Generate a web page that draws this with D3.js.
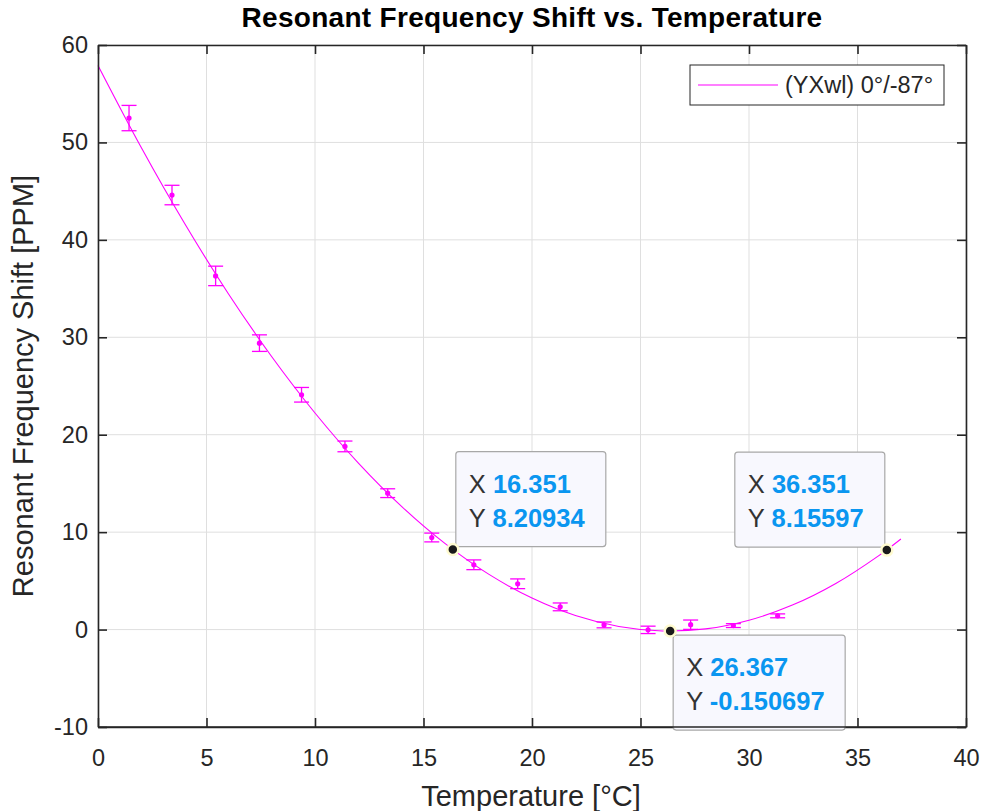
<!DOCTYPE html>
<html>
<head>
<meta charset="utf-8">
<script src="https://cdn.jsdelivr.net/npm/d3@7"></script>
<style>
  body { margin: 0; background: #fff; }
  text { font-family: Arial, "Liberation Sans", sans-serif; }
</style>
</head>
<body>
<svg id="chart"></svg>
<script>
// measured points (temperature, shift, error half-width)
var tempX = [1.43, 3.41, 5.42, 7.44, 9.38, 11.38, 13.35, 15.38, 17.32, 19.34, 21.3, 23.32, 25.35, 27.31, 29.28, 31.32];
var shiftY = [52.5, 44.6, 36.3, 29.4, 24.1, 18.8, 14.0, 9.45, 6.65, 4.7, 2.33, 0.48, -0.03, 0.5, 0.41, 1.41];
var errY = [1.3, 1.0, 1.0, 0.85, 0.75, 0.55, 0.45, 0.45, 0.5, 0.5, 0.4, 0.3, 0.38, 0.48, 0.2, 0.2];

// fitted curve
var fitX = [0, 2, 4, 6, 8, 10, 12, 14, 16, 18, 20, 22, 24, 26, 28, 30, 32, 34, 36, 37];
var fitY = [57.9, 49.45, 41.65, 34.5, 28.03, 22.23, 17.09, 12.62, 8.82, 5.69, 3.23, 1.44, 0.32, -0.14, 0.07, 0.96, 2.51, 4.73, 7.62, 9.3];

// data tips
var tipX = [16.351, 36.351, 26.367];
var tipY = [8.20934, 8.15597, -0.150697];
var tipLabelX = ["16.351", "36.351", "26.367"];
var tipLabelY = ["8.20934", "8.15597", "-0.150697"];

var xTicks = [0, 5, 10, 15, 20, 25, 30, 35, 40];
var yTicks = [-10, 0, 10, 20, 30, 40, 50, 60];
var legendLabel = "(YXwl) 0°/-87°";

var W = 982, H = 811;
var margin = {top: 45, right: 16, bottom: 84, left: 98};
var plotW = W - margin.left - margin.right,
    plotH = H - margin.top - margin.bottom;

var svg = d3.select("#chart").attr("width", W).attr("height", H);

var x = d3.scaleLinear().domain([0, 40]).range([0, plotW]);
var y = d3.scaleLinear().domain([-10, 60]).range([plotH, 0]);

var g = svg.append("g").attr("transform", "translate(" + margin.left + "," + margin.top + ")");

// grid
g.append("g").selectAll("line").data(xTicks).enter().append("line")
  .attr("x1", function(d) { return x(d); }).attr("x2", function(d) { return x(d); })
  .attr("y1", 0).attr("y2", plotH)
  .attr("stroke", "#dfdfdf").attr("stroke-width", 1);
g.append("g").selectAll("line").data(yTicks).enter().append("line")
  .attr("y1", function(d) { return y(d); }).attr("y2", function(d) { return y(d); })
  .attr("x1", 0).attr("x2", plotW)
  .attr("stroke", "#dfdfdf").attr("stroke-width", 1);

// fit line
var line = d3.line()
  .x(function(d) { return x(d[0]); })
  .y(function(d) { return y(d[1]); })
  .curve(d3.curveCatmullRom);
g.append("path")
  .datum(d3.zip(fitX, fitY))
  .attr("fill", "none").attr("stroke", "#ff00ff").attr("stroke-width", 1.1)
  .attr("d", line);

// error bars
var pts = d3.zip(tempX, shiftY, errY);
var cap = 7.5;
var eb = g.append("g").attr("stroke", "#ff00ff").attr("stroke-width", 1.3);
eb.selectAll(".ev").data(pts).enter().append("line")
  .attr("x1", function(d) { return x(d[0]); }).attr("x2", function(d) { return x(d[0]); })
  .attr("y1", function(d) { return y(d[1] + d[2]); }).attr("y2", function(d) { return y(d[1] - d[2]); });
eb.selectAll(".et").data(pts).enter().append("line")
  .attr("x1", function(d) { return x(d[0]) - cap; }).attr("x2", function(d) { return x(d[0]) + cap; })
  .attr("y1", function(d) { return y(d[1] + d[2]); }).attr("y2", function(d) { return y(d[1] + d[2]); });
eb.selectAll(".eb").data(pts).enter().append("line")
  .attr("x1", function(d) { return x(d[0]) - cap; }).attr("x2", function(d) { return x(d[0]) + cap; })
  .attr("y1", function(d) { return y(d[1] - d[2]); }).attr("y2", function(d) { return y(d[1] - d[2]); });
g.append("g").selectAll("circle").data(pts).enter().append("circle")
  .attr("cx", function(d) { return x(d[0]); }).attr("cy", function(d) { return y(d[1]); })
  .attr("r", 2.6).attr("fill", "#ff00ff");

// axes box + ticks
var axColor = "#262626";
var fmt = function(d) { return String(d); };
var axB = g.append("g").attr("transform", "translate(0," + plotH + ")")
  .call(d3.axisBottom(x).tickValues(xTicks).tickSizeInner(-9).tickSizeOuter(0).tickPadding(22).tickFormat(fmt));
var axT = g.append("g")
  .call(d3.axisTop(x).tickValues(xTicks).tickSizeInner(-9).tickSizeOuter(0).tickFormat(""));
var axL = g.append("g")
  .call(d3.axisLeft(y).tickValues(yTicks).tickSizeInner(-9).tickSizeOuter(0).tickPadding(10).tickFormat(fmt));
var axR = g.append("g").attr("transform", "translate(" + plotW + ",0)")
  .call(d3.axisRight(y).tickValues(yTicks).tickSizeInner(-9).tickSizeOuter(0).tickFormat(""));
[axB, axT, axL, axR].forEach(function(a) {
  a.select(".domain").attr("stroke", axColor).attr("stroke-width", 1.6);
  a.selectAll(".tick line").attr("stroke", axColor).attr("stroke-width", 1.6);
  a.selectAll(".tick text").attr("fill", axColor).style("font-size", "23.5px")
    .style("font-family", "Arial, 'Liberation Sans', sans-serif");
});

// data tips
var tipBoxes = [
  {dx: 3, dy: -98, w: 150, h: 95},
  {dx: -152, dy: -98, w: 150, h: 95},
  {dx: 3, dy: 4, w: 172, h: 95}
];
var tips = g.append("g");
tipX.forEach(function(tx, i) {
  var px = x(tx), py = y(tipY[i]), b = tipBoxes[i];
  var bx = px + b.dx, by = py + b.dy;
  tips.append("rect").attr("x", bx).attr("y", by).attr("width", b.w).attr("height", b.h)
    .attr("rx", 3).attr("fill", "#f8f8fe").attr("stroke", "#a8a8a8").attr("stroke-width", 1.2);
  var t1 = tips.append("text").attr("x", bx + 13).attr("y", by + 41).style("font-size", "25.5px");
  t1.append("tspan").attr("fill", "#333").text("X ");
  t1.append("tspan").attr("fill", "#0a96f0").attr("font-weight", "bold").text(tipLabelX[i]);
  var t2 = tips.append("text").attr("x", bx + 13).attr("y", by + 75).style("font-size", "25.5px");
  t2.append("tspan").attr("fill", "#333").text("Y ");
  t2.append("tspan").attr("fill", "#0a96f0").attr("font-weight", "bold").text(tipLabelY[i]);
  tips.append("circle").attr("cx", px).attr("cy", py).attr("r", 5.5)
    .attr("fill", "#1a1a1a").attr("stroke", "#fffbd0").attr("stroke-width", 2.5);
});
// redraw bottom axis line over the last tip box
g.append("line").attr("x1", 0).attr("x2", plotW).attr("y1", plotH).attr("y2", plotH)
  .attr("stroke", axColor).attr("stroke-width", 1.6);

// legend
var lg = g.append("g").attr("transform", "translate(" + (plotW - 276) + ",20)");
lg.append("rect").attr("width", 254).attr("height", 40)
  .attr("fill", "#fff").attr("stroke", axColor).attr("stroke-width", 1);
lg.append("line").attr("x1", 8).attr("x2", 88).attr("y1", 20).attr("y2", 20)
  .attr("stroke", "#ff00ff").attr("stroke-width", 1.1);
lg.append("text").attr("x", 95).attr("y", 28).attr("fill", axColor)
  .style("font-size", "23.5px").text(legendLabel);

// titles
svg.append("text").attr("x", margin.left + plotW / 2).attr("y", 27)
  .attr("text-anchor", "middle").attr("font-weight", "bold").attr("fill", "#000")
  .style("font-size", "28px").style("letter-spacing", "0.3px")
  .text("Resonant Frequency Shift vs. Temperature");
svg.append("text").attr("x", 531).attr("y", 806)
  .attr("text-anchor", "middle").attr("fill", axColor)
  .style("font-size", "29px").text("Temperature [°C]");
svg.append("text").attr("transform", "translate(33," + (margin.top + plotH / 2) + ") rotate(-90)")
  .attr("text-anchor", "middle").attr("fill", axColor)
  .style("font-size", "29px").text("Resonant Frequency Shift [PPM]");
</script>
</body>
</html>
